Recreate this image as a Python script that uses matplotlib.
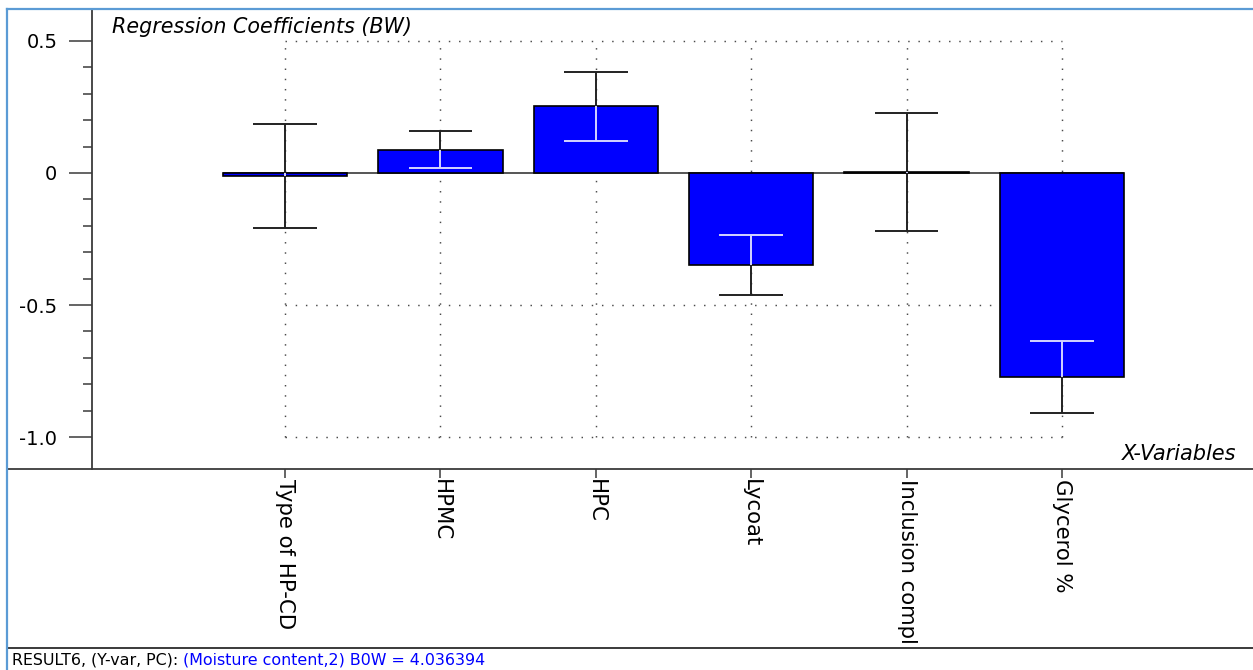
import matplotlib
matplotlib.use("Agg")
import matplotlib.pyplot as plt
from matplotlib.ticker import FixedLocator, FuncFormatter
from matplotlib.lines import Line2D

# Regression coefficients (BW) with confidence intervals
categories = ["Type of HP-CD", "HPMC", "HPC", "Lycoat", "Inclusion compl", "Glycerol %"]
coef = [-0.012, 0.088, 0.253, -0.349, 0.004, -0.772]
ci_half = [0.197, 0.070, 0.131, 0.113, 0.224, 0.136]
grid_levels = [0.5, -0.5, -1.0]
major_ticks = [0.5, 0.0, -0.5, -1.0]
minor_ticks = [0.4, 0.3, 0.2, 0.1, -0.1, -0.2, -0.3, -0.4,
               -0.6, -0.7, -0.8, -0.9]

status_black = "RESULT6, (Y-var, PC): "
status_blue = "(Moisture content,2) B0W = 4.036394"

plt.rcParams["font.family"] = ["DejaVu Sans"]
plt.rcParams["axes.unicode_minus"] = False

W, H = 1253, 670
fig = plt.figure(figsize=(W / 100, H / 100), dpi=100)


def fx(px):
    return px / W


def fy(py):
    return 1 - py / H


ax = fig.add_axes([fx(92), fy(469), fx(W - 92), (469 - 9) / H])
ax.set_xlim(-1.242, 6.229)
ax.set_ylim(-1.121, 0.621)

x = list(range(len(categories)))
bar_w = 0.8
cap_half = 0.205

# dotted reference grid spanning the categories
for gy in grid_levels:
    ax.hlines(gy, x[0], x[-1], colors="#4a4a4a", linewidth=1.05,
              linestyles=(0, (1, 6.0)), zorder=1)
ax.vlines(x, min(grid_levels), max(grid_levels), colors="#4a4a4a", linewidth=1.05,
          linestyles=(0, (1, 6.0)), zorder=1)

# zero baseline across the bars
ax.hlines(0, x[0] - bar_w / 2, x[-1] + bar_w / 2, colors="#555555",
          linewidth=1.4, zorder=2)

ax.bar(x, coef, width=bar_w, color="#0000ff", edgecolor="black",
       linewidth=1.2, zorder=3)

# error bars: light where they cross a bar, dark outside it
inside_col = "#d4d4ff"
outside_col = "#222222"
for xi, v, h in zip(x, coef, ci_half):
    lo, hi = v - h, v + h
    b0, b1 = min(0, v), max(0, v)
    pieces = []
    if lo < b0:
        pieces.append((lo, min(hi, b0), outside_col))
    if hi > b1:
        pieces.append((max(lo, b1), hi, outside_col))
    a, b = max(lo, b0), min(hi, b1)
    if b > a:
        pieces.append((a, b, inside_col))
    for s0, s1, c in pieces:
        ax.vlines(xi, s0, s1, colors=c, linewidth=1.4, zorder=4)
    for cy in (lo, hi):
        c = inside_col if b0 < cy < b1 else outside_col
        ax.hlines(cy, xi - cap_half, xi + cap_half, colors=c, linewidth=1.4, zorder=4)

# axes styling
for side in ("top", "right", "bottom"):
    ax.spines[side].set_visible(False)
ax.spines["left"].set_color("#3a3a3a")
ax.spines["left"].set_linewidth(1.3)

ax.yaxis.set_major_locator(FixedLocator(major_ticks))
ax.yaxis.set_minor_locator(FixedLocator(minor_ticks))
ax.yaxis.set_major_formatter(FuncFormatter(lambda v, p: "0" if abs(v) < 1e-9 else f"{v:.1f}"))
ax.tick_params(axis="y", which="major", direction="out", length=16.5, width=1.1,
               color="#3a3a3a", pad=8.5, labelsize=14, labelcolor="black")
ax.tick_params(axis="y", which="minor", direction="out", length=6.5, width=1.1,
               color="#3a3a3a")

ax.set_xticks(x)
ax.set_xticklabels(categories, rotation=270, ha="center", va="top", fontsize=15.3)
ax.tick_params(axis="x", direction="out", length=6.5, width=1.1, color="#3a3a3a", pad=1)

# titles inside the plot
fig.text(fx(112), fy(27), "Regression Coefficients (BW)", fontsize=14.9,
         style="italic", ha="left", va="center")
fig.text(fx(1236), fy(454), "X-Variables", fontsize=15, style="italic",
         ha="right", va="center")

# frame and separator lines
fig.add_artist(Line2D([fx(7), 1], [fy(469), fy(469)], color="#3a3a3a", linewidth=1.3))
fig.add_artist(Line2D([fx(7), 1], [fy(648), fy(648)], color="#3a3a3a", linewidth=1.4))
fig.add_artist(Line2D([fx(7), 1], [fy(8.5), fy(8.5)], color="#5b9bd5", linewidth=1.6))
fig.add_artist(Line2D([fx(7), fx(7)], [fy(8.5), 0], color="#5b9bd5", linewidth=1.6))

# status line
t1 = fig.text(fx(12), fy(660), status_black, fontsize=11.4, color="black",
              ha="left", va="center")
fig.canvas.draw()
bb = t1.get_window_extent()
fig.text(bb.x1 / W, fy(660), status_blue, fontsize=11.4, color="#0000ff",
         ha="left", va="center")

fig.savefig("out.png", dpi=100)
